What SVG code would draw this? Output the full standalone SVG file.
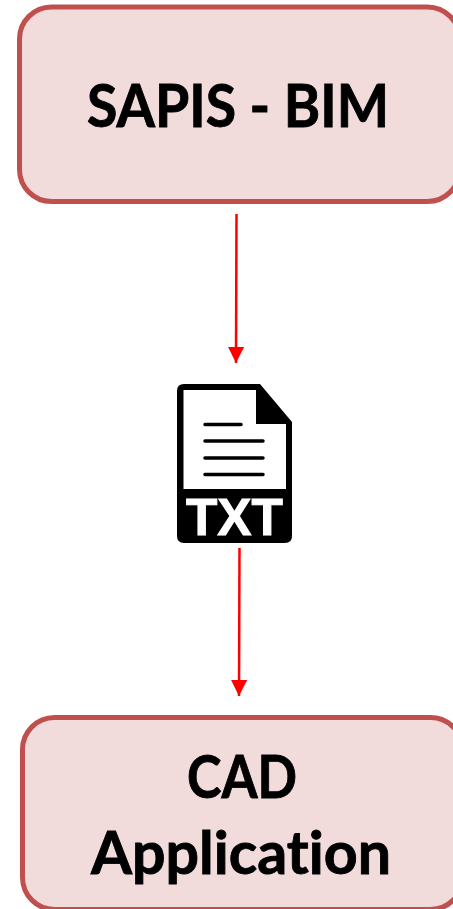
<svg xmlns="http://www.w3.org/2000/svg" width="453" height="909" viewBox="0 0 453 909">
<style>
.box{fill:#f2dcdb;stroke:#c0504d;stroke-width:5}
.lbl{font-family:"Lato","Open Sans",sans-serif;font-weight:700;font-size:60px;fill:#000;stroke:#000;stroke-width:0.9;font-variant-ligatures:none}
.ln{stroke:#000;stroke-width:3.5;stroke-linecap:round;fill:none}
.conn{stroke:#f00;stroke-width:2.500;fill:none;marker-end:url(#arr)}
</style>
<defs>
<marker id="arr" markerUnits="userSpaceOnUse" markerWidth="16" markerHeight="16" refX="16" refY="8" orient="auto">
<path d="M0 0L16 8L0 16Z" fill="#f00"/>
</marker>
</defs>
<rect width="453" height="909" fill="#fff"/>
<g id="connectors">
<path class="conn" d="M236.5 214L236 363"/>
<path class="conn" d="M239.5 548L239 696"/>
</g>
<g id="node-sapis">
<rect class="box" x="19.5" y="7" width="440" height="194.500" rx="32"/>
<text class="lbl" x="87" y="126.500" textLength="302" lengthAdjust="spacingAndGlyphs">SAPIS - BIM</text>
</g>
<g id="node-txt">
<path d="M183 384H260L292 422V536Q292 543 285 543H184Q177 543 177 536V391Q177 384 184 384Z" fill="#000"/>
<path d="M183.500 390H256V424H286V489H183.500Z" fill="#fff"/>
<path class="ln" d="M205 424.500H241M205 441H263M205 458H263M205 474.500H263"/>
<text x="186" y="535" font-family="Liberation Sans,Arial,sans-serif" font-weight="700" font-size="52" fill="#fff" stroke="#fff" stroke-width="1" textLength="97" lengthAdjust="spacingAndGlyphs">TXT</text>
</g>
<g id="node-cad">
<rect class="box" x="22.500" y="717.500" width="440" height="192" rx="32"/>
<text class="lbl" x="187" y="797.500" textLength="110" lengthAdjust="spacingAndGlyphs">CAD</text>
<text class="lbl" x="91" y="873.500" textLength="300" lengthAdjust="spacingAndGlyphs">Application</text>
</g>
</svg>
